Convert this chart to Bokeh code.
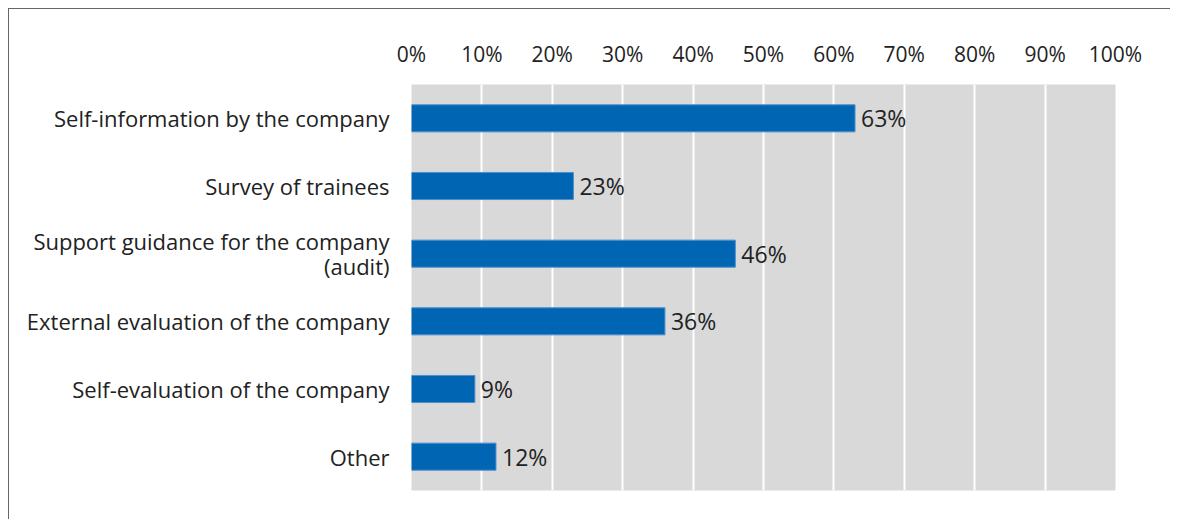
from bokeh.plotting import figure
from bokeh.models import ColumnDataSource, FactorRange, Range1d, FixedTicker
from bokeh.core.properties import value
from bokeh.embed import file_html
from bokeh.resources import INLINE

categories = [
    "Self-information by the company",
    "Survey of trainees",
    "Support guidance for the company\n(audit)",
    "External evaluation of the company",
    "Self-evaluation of the company",
    "Other",
]
values = [63, 23, 46, 36, 9, 12]
tick_values = [0, 10, 20, 30, 40, 50, 60, 70, 80, 90, 100]
tick_labels = {t: f"{t}%" for t in tick_values}

FONT = "Open Sans"
TXT = "#222222"

src = ColumnDataSource(dict(cat=categories, val=values,
                            lab=[f"{v}%" for v in values]))

p = figure(width=1162, height=511, output_backend="svg", toolbar_location=None,
           y_range=FactorRange(*reversed(categories)), x_range=Range1d(0, 100),
           x_axis_location="above",
           min_border_left=402, min_border_right=56, min_border_top=75,
           min_border_bottom=30)
p.styles = {"margin-left": "8px", "margin-top": "8px",
            "border-left": "1px solid #666666", "border-top": "1px solid #666666"}
p.outline_line_color = None
p.background_fill_color = "#d9d9d9"
p.border_fill_color = "white"

p.hbar(y="cat", right="val", left=0, height=0.4, source=src,
       fill_color="#0066b3", line_color="#4d8fcc", line_width=1)
p.text(x="val", y="cat", text="lab", source=src, x_offset=6,
       text_baseline="middle", text_align="left", text_font_size="23px",
       text_font=value(FONT), text_color=TXT)

xa = p.xaxis[0]
xa.ticker = FixedTicker(ticks=tick_values)
xa.major_label_overrides = tick_labels
xa.axis_line_color = None
xa.major_tick_line_color = None
xa.minor_tick_line_color = None
xa.major_tick_out = 0
xa.major_label_text_font = FONT
xa.major_label_text_font_size = "21px"
xa.major_label_text_color = TXT
xa.major_label_standoff = 17

ya = p.yaxis[0]
ya.axis_line_color = None
ya.major_tick_line_color = None
ya.minor_tick_line_color = None
ya.major_tick_out = 0
ya.major_label_text_font = FONT
ya.major_label_text_font_size = "22px"
ya.major_label_text_color = TXT
ya.major_label_text_line_height = 0.84
ya.major_label_standoff = 22

p.ygrid.grid_line_color = None
p.xgrid.ticker = FixedTicker(ticks=tick_values[1:-1])
p.xgrid.grid_line_color = "white"
p.xgrid.grid_line_width = 2

open("out.html", "w").write(file_html(p, INLINE))
